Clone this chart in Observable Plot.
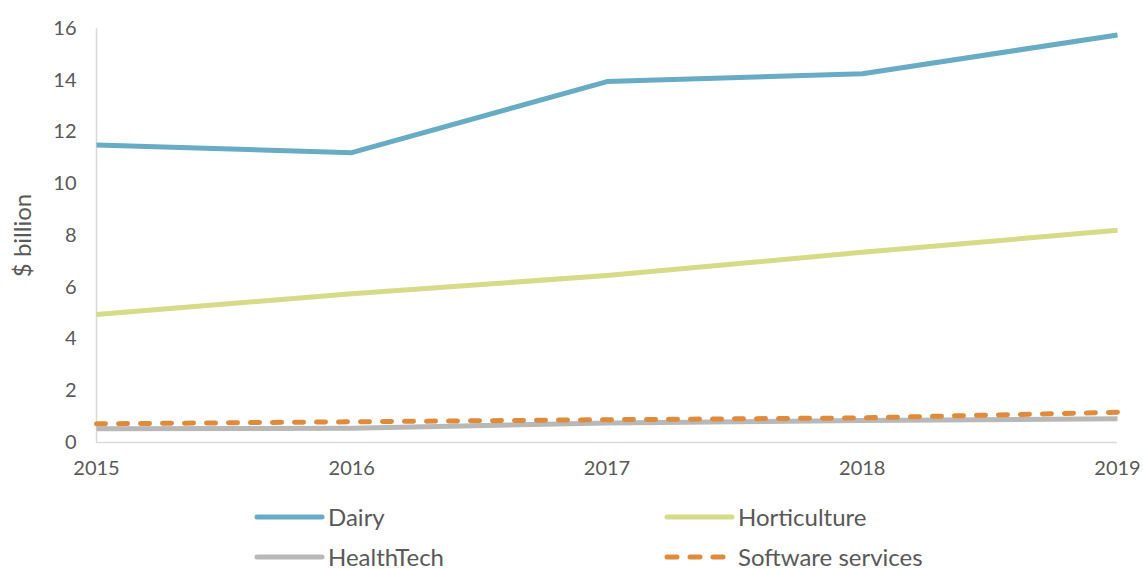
<!DOCTYPE html>
<html>
<head>
<meta charset="utf-8">
<script src="https://cdn.jsdelivr.net/npm/d3@7"></script>
<script src="https://cdn.jsdelivr.net/npm/@observablehq/plot@0.6"></script>
<style>
  html, body { margin: 0; padding: 0; background: #fff; }
  body { width: 1143px; height: 569px; overflow: hidden; font-family: Lato, "Open Sans", sans-serif; color: #595959; }
  #legend { position: relative; height: 79px; }
  .item { position: absolute; display: flex; align-items: center; font-size: 24px; color: #595959; }
  .item svg { margin-right: 3px; }
</style>
</head>
<body>
<div id="chart"></div>
<div id="legend"></div>
<script>
const years = [2015, 2016, 2017, 2018, 2019];
const dairy = [11.5, 11.2, 13.95, 14.25, 15.75];
const horticulture = [4.95, 5.75, 6.45, 7.35, 8.2];
const healthTech = [0.53, 0.55, 0.75, 0.85, 0.92];
const softwareServices = [0.72, 0.8, 0.88, 0.95, 1.17];
const seriesNames = ["Dairy", "Horticulture", "HealthTech", "Software services"];
const seriesValues = [dairy, horticulture, healthTech, softwareServices];
const colors = ["#67abc5", "#d5db87", "#b8b8b8", "#e08a3b"];
const yTicks = [0, 2, 4, 6, 8, 10, 12, 14, 16];

const data = seriesNames.flatMap((name, i) => years.map((year, j) => ({series: name, year, value: seriesValues[i][j]})));

const lineMark = (name, i) => Plot.line(data.filter(d => d.series === name), {
  x: "year", y: "value",
  stroke: colors[i], strokeWidth: 5,
  strokeLinecap: name === "Software services" ? "round" : "butt",
  strokeDasharray: name === "Software services" ? "9,13" : null
});

const chart = Plot.plot({
  width: 1143,
  height: 490,
  marginLeft: 96,
  marginRight: 26,
  marginTop: 28,
  marginBottom: 48,
  style: {fontFamily: "Lato, 'Open Sans', sans-serif", fontSize: "20px", color: "#595959", background: "#fff"},
  x: {domain: [2015, 2019], ticks: years, tickFormat: d3.format("d"), tickSize: 0, tickPadding: 20, label: null},
  y: {domain: [0, 16], ticks: yTicks, tickSize: 0, tickPadding: 20, label: null},
  marks: [
    Plot.ruleX([2015], {stroke: "#d9d9d9", strokeWidth: 1.5}),
    Plot.ruleY([0], {stroke: "#d9d9d9", strokeWidth: 1.5}),
    Plot.axisX({ticks: years, tickFormat: d3.format("d"), tickSize: 0, tickPadding: 18, fontSize: 20, fill: "#595959", label: null}),
    Plot.axisY({ticks: yTicks, tickSize: 0, tickPadding: 20, fontSize: 20, fill: "#595959", label: null}),
    Plot.text(["$ billion"], {frameAnchor: "left", textAnchor: "middle", dx: -73, rotate: -90, fontSize: 24, fill: "#595959"}),
    ...seriesNames.map(lineMark)
  ]
});
document.getElementById("chart").appendChild(chart);

const legend = document.getElementById("legend");
const pos = [[254, 28], [664, 28], [254, 68], [664, 68]];
seriesNames.forEach((name, i) => {
  const el = document.createElement("div");
  el.className = "item";
  el.style.left = pos[i][0] + "px";
  el.style.top = (pos[i][1] - 16) + "px";
  const dashed = name === "Software services";
  el.innerHTML = `<svg width="71" height="10"><line x1="3" y1="5" x2="68" y2="5" stroke="${colors[i]}" stroke-width="5" stroke-linecap="round" ${dashed ? 'stroke-dasharray="10,13"' : ''}/></svg><span>${name}</span>`;
  legend.appendChild(el);
});
</script>
</body>
</html>
